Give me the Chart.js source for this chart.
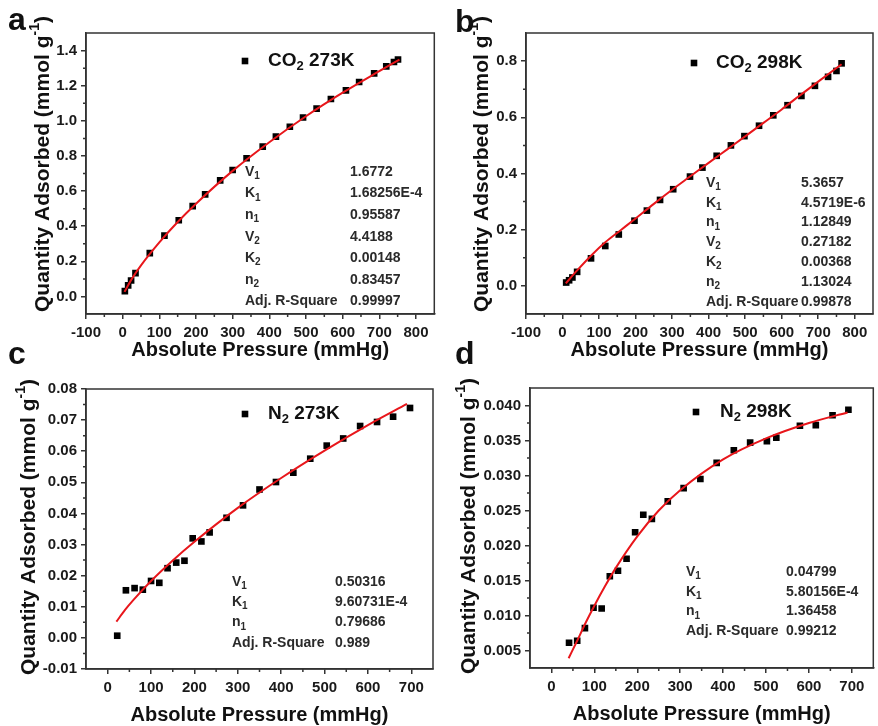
<!DOCTYPE html>
<html>
<head>
<meta charset="utf-8">
<script src="https://cdn.jsdelivr.net/npm/chart.js@4.4.1/dist/chart.umd.min.js"></script>
<style>
body{margin:0;background:#fff;}
#wrap{position:relative;width:878px;height:726px;overflow:hidden;background:#fff;}
.pane{position:absolute;}
canvas{display:block;}
</style>
</head>
<body>
<div id="wrap">
  <div class="pane" style="left:0;top:0"><canvas id="chartA" width="439" height="363"></canvas></div>
  <div class="pane" style="left:439px;top:0"><canvas id="chartB" width="439" height="363"></canvas></div>
  <div class="pane" style="left:0;top:340px"><canvas id="chartC" width="439" height="386"></canvas></div>
  <div class="pane" style="left:439px;top:340px"><canvas id="chartD" width="439" height="386"></canvas></div>
</div>
<script>
// ---- data ----
// a: CO2 273K
var co2_273_p = [6, 15, 23, 35, 74, 114, 153, 191, 225, 266, 300, 338, 382, 418, 456, 492, 529, 568, 609, 645, 686, 719, 740, 751];
var co2_273_q = [0.030, 0.063, 0.091, 0.133, 0.247, 0.346, 0.434, 0.514, 0.581, 0.661, 0.720, 0.787, 0.853, 0.910, 0.966, 1.019, 1.069, 1.124, 1.173, 1.221, 1.270, 1.310, 1.335, 1.349];
var co2_273_fitP = [5, 25, 50, 100, 150, 200, 300, 400, 500, 600, 700, 755];
var co2_273_fitQ = [0.026, 0.100, 0.177, 0.308, 0.424, 0.528, 0.715, 0.878, 1.026, 1.160, 1.283, 1.349];
var co2_273_params = ['1.6772', '1.68256E-4', '0.95587', '4.4188', '0.00148', '0.83457', '0.99997'];

// b: CO2 298K
var co2_298_p = [10, 18, 27, 40, 78, 117, 154, 197, 231, 267, 303, 349, 383, 422, 461, 498, 538, 577, 616, 654, 691, 727, 750, 764];
var co2_298_q = [0.012, 0.020, 0.030, 0.050, 0.098, 0.142, 0.183, 0.232, 0.268, 0.306, 0.344, 0.389, 0.421, 0.463, 0.500, 0.533, 0.570, 0.607, 0.643, 0.676, 0.712, 0.744, 0.765, 0.792];
var co2_298_fitP = [9, 40, 80, 117, 160, 200, 250, 300, 350, 400, 450, 500, 550, 600, 650, 700, 764];
var co2_298_fitQ = [0.009, 0.055, 0.110, 0.155, 0.199, 0.240, 0.292, 0.342, 0.390, 0.438, 0.485, 0.532, 0.580, 0.628, 0.678, 0.727, 0.789];
var co2_298_params = ['5.3657', '4.5719E-6', '1.12849', '0.27182', '0.00368', '1.13024', '0.99878'];

// c: N2 273K
var n2_273_p = [22, 42, 62, 81, 100, 119, 138, 158, 177, 196, 216, 235, 274, 312, 350, 388, 428, 467, 505, 543, 582, 621, 658, 697];
var n2_273_q = [0.0007, 0.0153, 0.0160, 0.0155, 0.0183, 0.0177, 0.0224, 0.0242, 0.0248, 0.0320, 0.0310, 0.0339, 0.0386, 0.0426, 0.0477, 0.0501, 0.0531, 0.0576, 0.0618, 0.0641, 0.0681, 0.0694, 0.0711, 0.0739];
var n2_273_fitP = [20, 40, 60, 100, 150, 200, 300, 400, 500, 600, 690];
var n2_273_fitQ = [0.0052, 0.0090, 0.0123, 0.0183, 0.0249, 0.0309, 0.0418, 0.0514, 0.0602, 0.0684, 0.0752];
var n2_273_params = ['0.50316', '9.60731E-4', '0.79686', '0.989'];

// d: N2 298K
var n2_298_p = [41, 60, 78, 98, 117, 136, 155, 175, 195, 214, 234, 271, 308, 347, 385, 425, 463, 502, 524, 579, 616, 655, 692];
var n2_298_q = [0.0061, 0.0064, 0.0082, 0.0111, 0.0110, 0.0156, 0.0164, 0.0181, 0.0219, 0.0244, 0.0238, 0.0263, 0.0282, 0.0295, 0.0318, 0.0336, 0.0347, 0.0349, 0.0354, 0.0371, 0.0372, 0.0386, 0.0394];
var n2_298_fitP = [40, 60, 80, 100, 125, 150, 200, 250, 300, 400, 500, 600, 690];
var n2_298_fitQ = [0.0039, 0.0064, 0.0090, 0.0114, 0.0142, 0.0168, 0.0213, 0.0250, 0.0279, 0.0323, 0.0353, 0.0375, 0.0390];
var n2_298_params = ['0.04799', '5.80156E-4', '1.36458', '0.99212'];

// parameter names (letter, subscript)
var dualNames = [['V', '1'], ['K', '1'], ['n', '1'], ['V', '2'], ['K', '2'], ['n', '2'], ['Adj. R-Square', '']];
var singleNames = [['V', '1'], ['K', '1'], ['n', '1'], ['Adj. R-Square', '']];

// ticks
var co2_xTicks = [-100, 0, 100, 200, 300, 400, 500, 600, 700, 800];
var co2_xMinor = [-50, 50, 150, 250, 350, 450, 550, 650, 750];
var n2_xTicks = [0, 100, 200, 300, 400, 500, 600, 700];
var n2_xMinor = [50, 150, 250, 350, 450, 550, 650];
var a_yTicks = [0, 0.2, 0.4, 0.6, 0.8, 1.0, 1.2, 1.4];
var a_yMinor = [0.1, 0.3, 0.5, 0.7, 0.9, 1.1, 1.3];
var b_yTicks = [0, 0.2, 0.4, 0.6, 0.8];
var b_yMinor = [0.1, 0.3, 0.5, 0.7];
var c_yTicks = [-0.01, 0, 0.01, 0.02, 0.03, 0.04, 0.05, 0.06, 0.07, 0.08];
var c_yMinor = [-0.005, 0.005, 0.015, 0.025, 0.035, 0.045, 0.055, 0.065, 0.075];
var d_yTicks = [0.005, 0.010, 0.015, 0.020, 0.025, 0.030, 0.035, 0.040];
var d_yMinor = [0.0075, 0.0125, 0.0175, 0.0225, 0.0275, 0.0325, 0.0375];

var FONT = '"Liberation Sans", Arial, Helvetica, sans-serif';
Chart.defaults.font.family = FONT;
Chart.defaults.font.weight = 'bold';
Chart.defaults.color = '#1a1a1a';

function pts(xs, ys) {
    return xs.map(function (x, i) { return {x: x, y: ys[i]}; });
}

// draws text made of pieces: [text, 0 normal | 1 sub | 2 sup]
function rich(c, x, y, parts, size) {
    var w = 0;
    parts.forEach(function (p) {
        var s = p[1] ? Math.round(size * 0.68) : size;
        c.font = 'bold ' + s + 'px ' + FONT;
        w += c.measureText(p[0]).width;
    });
    return {
        width: w,
        draw: function (x0) {
            var cx = x0;
            parts.forEach(function (p) {
                var s = p[1] ? Math.round(size * 0.68) : size;
                var dy = p[1] == 1 ? size * 0.3 : (p[1] == 2 ? -size * 0.38 : 0);
                c.font = 'bold ' + s + 'px ' + FONT;
                c.fillText(p[0], cx, y + dy);
                cx += c.measureText(p[0]).width;
            });
        }
    };
}

var deco = {
    id: 'deco',
    afterDraw: function (chart, args, o) {
        var c = chart.ctx, a = chart.chartArea, sx = chart.scales.x, sy = chart.scales.y;
        c.save();
        // box
        c.strokeStyle = '#333';
        c.lineWidth = 1.5;
        c.strokeRect(a.left, a.top, a.right - a.left, a.bottom - a.top);
        // minor ticks
        c.beginPath();
        o.xMinor.forEach(function (v) {
            var px = sx.getPixelForValue(v);
            c.moveTo(px, a.bottom); c.lineTo(px, a.bottom + 3);
        });
        o.yMinor.forEach(function (v) {
            var py = sy.getPixelForValue(v);
            c.moveTo(a.left, py); c.lineTo(a.left - 3, py);
        });
        c.stroke();

        c.fillStyle = '#111';
        c.textBaseline = 'alphabetic';
        // panel letter
        c.font = 'bold 32px ' + FONT;
        c.fillText(o.letter, o.letterX, o.letterY);

        c.textBaseline = 'middle';
        // y title
        c.save();
        c.translate(o.yTitleX, o.yTitleY);
        c.rotate(-Math.PI / 2);
        var t = rich(c, 0, 0, [['Quantity Adsorbed (mmol g', 0], ['-1', 2], [')', 0]], 21);
        t.draw(-t.width / 2);
        c.restore();

        // legend
        c.fillStyle = '#000';
        c.fillRect(o.legX - 3.3, o.legY - 3.3, 6.6, 6.6);
        c.fillStyle = '#111';
        rich(c, 0, o.legY, o.legText, 19).draw(o.legTextX);

        // fit parameters
        c.fillStyle = '#2a2a2a';
        o.names.forEach(function (n, i) {
            var y = o.tabY + i * o.tabStep;
            var parts = [[n[0], 0]];
            if (n[1]) parts.push([n[1], 1]);
            rich(c, 0, y, parts, 14).draw(o.tabX);
            c.font = 'bold 14px ' + FONT;
            c.fillText(o.values[i], o.tabValX, y);
        });
        c.restore();
    }
};

function panel(id, o) {
    var ctx = document.getElementById(id).getContext('2d');
    return new Chart(ctx, {
        type: 'scatter',
        data: {
            datasets: [{
                label: 'fit',
                data: pts(o.fitP, o.fitQ),
                showLine: true,
                borderColor: '#e8161b',
                borderWidth: 2,
                pointRadius: 0,
                cubicInterpolationMode: 'monotone',
                order: 0
            }, {
                label: o.name,
                data: pts(o.p, o.q),
                pointStyle: 'rect',
                pointRadius: 4.7,
                backgroundColor: '#000',
                borderColor: '#000',
                borderWidth: 0,
                order: 1
            }]
        },
        options: {
            responsive: false,
            animation: false,
            events: [],
            layout: {padding: o.pad},
            plugins: {
                legend: {display: false},
                tooltip: {enabled: false},
                deco: o.deco
            },
            scales: {
                x: {
                    type: 'linear',
                    min: o.xMin, max: o.xMax,
                    afterBuildTicks: function (s) { s.ticks = o.xTicks.map(function (v) { return {value: v}; }); },
                    afterFit: function (s) { s.height = o.xH; },
                    ticks: {
                        autoSkip: false, maxRotation: 0, padding: 5,
                        font: {size: 15, weight: 'bold'},
                        callback: function (v) { return v.toFixed(0); }
                    },
                    grid: {drawOnChartArea: false, drawTicks: true, tickLength: 5, color: '#333', lineWidth: 1.5},
                    border: {display: true, color: '#333', width: 1.5},
                    title: {
                        display: true, text: 'Absolute Pressure (mmHg)', color: '#111',
                        font: {size: 20, weight: 'bold', lineHeight: 1},
                        padding: {top: 0, bottom: o.xTitlePad}
                    }
                },
                y: {
                    type: 'linear',
                    min: o.yMin, max: o.yMax,
                    afterBuildTicks: function (s) { s.ticks = o.yTicks.map(function (v) { return {value: v}; }); },
                    afterFit: function (s) { s.width = o.yW; },
                    ticks: {
                        autoSkip: false, padding: 4,
                        font: {size: 15, weight: 'bold'},
                        callback: function (v) { return v.toFixed(o.yDec); }
                    },
                    grid: {drawOnChartArea: false, drawTicks: true, tickLength: 5, color: '#333', lineWidth: 1.5},
                    border: {display: true, color: '#333', width: 1.5}
                }
            }
        },
        plugins: [deco]
    });
}

panel('chartA', {
    name: 'CO2 273K', p: co2_273_p, q: co2_273_q, fitP: co2_273_fitP, fitQ: co2_273_fitQ,
    xMin: -100, xMax: 850, yMin: -0.1, yMax: 1.5, xTicks: co2_xTicks, yTicks: a_yTicks, yDec: 1,
    pad: {left: 0, top: 33, right: 4, bottom: 0}, yW: 86, xH: 49, xTitlePad: 3,
    deco: {
        xMinor: co2_xMinor, yMinor: a_yMinor, letter: 'a', letterX: 8, letterY: 30,
        yTitleX: 43, yTitleY: 164,
        legX: 245, legY: 61, legTextX: 268, legText: [['CO', 0], ['2', 1], [' 273K', 0]],
        names: dualNames, values: co2_273_params, tabX: 245, tabValX: 350, tabY: 172, tabStep: 21.6
    }
});

panel('chartB', {
    name: 'CO2 298K', p: co2_298_p, q: co2_298_q, fitP: co2_298_fitP, fitQ: co2_298_fitQ,
    xMin: -100, xMax: 850, yMin: -0.1, yMax: 0.9, xTicks: co2_xTicks, yTicks: b_yTicks, yDec: 1,
    pad: {left: 0, top: 33, right: 5, bottom: 0}, yW: 87, xH: 49, xTitlePad: 3,
    deco: {
        xMinor: co2_xMinor, yMinor: b_yMinor, letter: 'b', letterX: 16, letterY: 32,
        yTitleX: 43, yTitleY: 164,
        legX: 255, legY: 63, legTextX: 277, legText: [['CO', 0], ['2', 1], [' 298K', 0]],
        names: dualNames, values: co2_298_params, tabX: 267, tabValX: 362, tabY: 183, tabStep: 19.8
    }
});

panel('chartC', {
    name: 'N2 273K', p: n2_273_p, q: n2_273_q, fitP: n2_273_fitP, fitQ: n2_273_fitQ,
    xMin: -50, xMax: 750, yMin: -0.01, yMax: 0.08, xTicks: n2_xTicks, yTicks: c_yTicks, yDec: 2,
    pad: {left: 0, top: 49, right: 6, bottom: 0}, yW: 86, xH: 57, xTitlePad: 1,
    deco: {
        xMinor: n2_xMinor, yMinor: c_yMinor, letter: 'c', letterX: 8, letterY: 24,
        yTitleX: 29, yTitleY: 187,
        legX: 245, legY: 74, legTextX: 268, legText: [['N', 0], ['2', 1], [' 273K', 0]],
        names: singleNames, values: n2_273_params, tabX: 232, tabValX: 335, tabY: 242, tabStep: 20.3
    }
});

panel('chartD', {
    name: 'N2 298K', p: n2_298_p, q: n2_298_q, fitP: n2_298_fitP, fitQ: n2_298_fitQ,
    xMin: -50, xMax: 750, yMin: 0.0025, yMax: 0.0425, xTicks: n2_xTicks, yTicks: d_yTicks, yDec: 3,
    pad: {left: 0, top: 48, right: 2, bottom: 0}, yW: 91, xH: 58, xTitlePad: 2,
    deco: {
        xMinor: n2_xMinor, yMinor: d_yMinor, letter: 'd', letterX: 16, letterY: 24,
        yTitleX: 30, yTitleY: 186,
        legX: 257, legY: 72, legTextX: 281, legText: [['N', 0], ['2', 1], [' 298K', 0]],
        names: singleNames, values: n2_298_params, tabX: 247, tabValX: 347, tabY: 232, tabStep: 19.8
    }
});
</script>
</body>
</html>
